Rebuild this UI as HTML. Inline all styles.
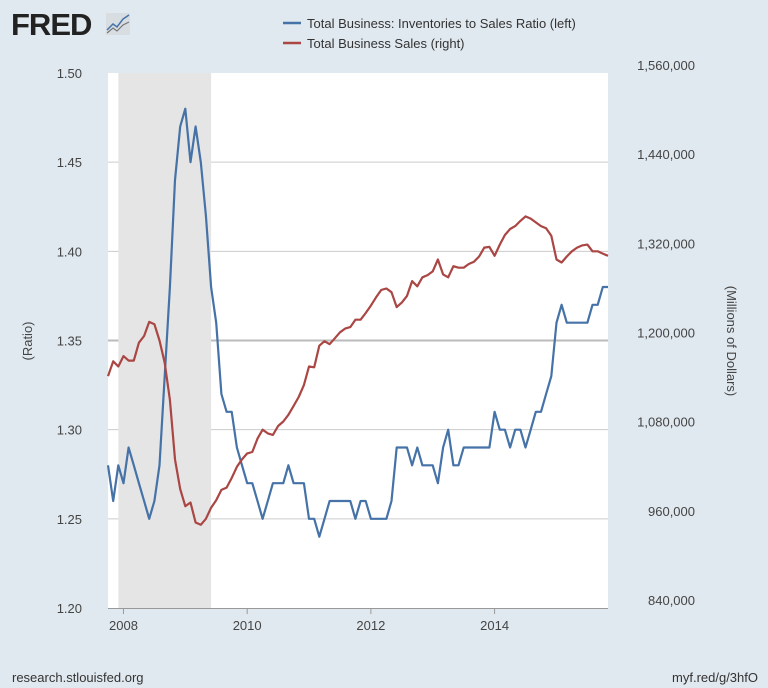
<!DOCTYPE html>
<html><head><meta charset="utf-8"><style>
body{margin:0;background:#e1e9f0;font-family:"Liberation Sans",sans-serif;}
svg{display:block}
text{font-family:"Liberation Sans",sans-serif;}
</style></head><body>
<svg id="c" width="768" height="688">
<rect width="768" height="688" fill="#e1e9f0"/>
<g>
<text x="11" y="35" font-size="31" font-weight="bold" fill="#222" letter-spacing="-1">FRED</text>
<rect x="106" y="13" width="24" height="22" fill="#d8dde2"/>
<polyline points="107,30 113,24 117,27 123,19 129,15" fill="none" stroke="#4572a7" stroke-width="1.5"/>
<polyline points="107,33 113,28 117,31 123,25 129,22" fill="none" stroke="#777" stroke-width="1.2"/>
</g>
<g>
<line x1="283" y1="23" x2="301" y2="23" stroke="#4572a7" stroke-width="2.5"/>
<text x="307" y="28" font-size="13" fill="#333">Total Business: Inventories to Sales Ratio (left)</text>
<line x1="283" y1="43" x2="301" y2="43" stroke="#aa4643" stroke-width="2.5"/>
<text x="307" y="48" font-size="13" fill="#333">Total Business Sales (right)</text>
</g>
<rect x="108" y="73" width="500" height="535" fill="#fff"/>
<g id="grid"></g><g id="rec"></g><g id="series"></g><g id="axes"></g>
<text transform="translate(32,341) rotate(-90)" text-anchor="middle" font-size="13" fill="#444">(Ratio)</text>
<text transform="translate(727,341) rotate(90)" text-anchor="middle" font-size="13" fill="#444">(Millions of Dollars)</text>
<text x="12" y="682" font-size="13" fill="#333">research.stlouisfed.org</text>
<text x="758" y="682" text-anchor="end" font-size="13" fill="#333">myf.red/g/3hfO</text>
</svg>
<script>
const startYear=2007, startMonth=9; // Oct 2007, month index 0-based
const ratio=[1.28,1.26,1.28,1.27,1.29,1.28,1.27,1.26,1.25,1.26,1.28,1.33,1.38,1.44,1.47,1.48,1.45,1.47,1.45,1.42,1.38,1.36,1.32,1.31,1.31,1.29,1.28,1.27,1.27,1.26,1.25,1.26,1.27,1.27,1.27,1.28,1.27,1.27,1.27,1.25,1.25,1.24,1.25,1.26,1.26,1.26,1.26,1.26,1.25,1.26,1.26,1.25,1.25,1.25,1.25,1.26,1.29,1.29,1.29,1.28,1.29,1.28,1.28,1.28,1.27,1.29,1.30,1.28,1.28,1.29,1.29,1.29,1.29,1.29,1.29,1.31,1.30,1.30,1.29,1.30,1.30,1.29,1.30,1.31,1.31,1.32,1.33,1.36,1.37,1.36,1.36,1.36,1.36,1.36,1.37,1.37,1.38,1.38];
const sales=[1152,1172,1165,1179,1173,1173,1197,1206,1225,1222,1200,1170,1120,1040,1000,977,982,955,952,960,975,985,999,1002,1015,1030,1040,1048,1050,1068,1080,1075,1073,1085,1091,1100,1112,1124,1140,1165,1164,1193,1199,1195,1203,1211,1216,1218,1228,1228,1237,1247,1258,1268,1270,1265,1245,1251,1260,1280,1273,1285,1288,1293,1309,1289,1285,1300,1298,1298,1303,1306,1313,1325,1326,1314,1329,1342,1350,1354,1361,1367,1364,1359,1354,1351,1341,1309,1305,1313,1320,1325,1328,1329,1320,1320,1317,1314];
const leftTicks=[1.20,1.25,1.30,1.35,1.40,1.45,1.50];
const rightTicks=[840000,960000,1080000,1200000,1320000,1440000,1560000];
const xTicks=[2008,2010,2012,2014];
const recession=[2007.917,2009.417];
const X0=108,X1=608,Y0=608,Y1=73;
const firstT=startYear+startMonth/12, lastT=firstT+(ratio.length-1)/12;
const x=t=>X0+(t-firstT)/(lastT-firstT)*(X1-X0);
const xi=i=>x(firstT+i/12);
const yL=v=>Y0-(v-1.20)/(1.50-1.20)*(Y0-Y1);
const yR=v=>Y0-(v-840000)/(1560000-840000)*(Y0-Y1);
const NS="http://www.w3.org/2000/svg";
function mk(p,tag,a){const e=document.createElementNS(NS,tag);for(const k in a)e.setAttribute(k,a[k]);document.getElementById(p).appendChild(e);return e;}
leftTicks.forEach((v,k)=>{
  if(k>0&&k<leftTicks.length-1){const g=mk('grid','line',{x1:X0,x2:X1,y1:yL(v),y2:yL(v),stroke:v===1.35?'#bbb':'#ccc','stroke-width':v===1.35?2:1});
  
  }
  const t=mk('axes','text',{x:82,y:yL(v)+5,'text-anchor':'end','font-size':13,fill:'#444'});t.textContent=v.toFixed(2);
  
  
});
rightTicks.forEach(v=>{
  const t=mk('axes','text',{x:695,y:yR(v)-3,'text-anchor':'end','font-size':13,fill:'#444'});t.textContent=v.toLocaleString('en-US');
  
  
});
xTicks.forEach(v=>{
  const t=mk('axes','text',{x:x(v),y:630,'text-anchor':'middle','font-size':13,fill:'#444'});t.textContent=v;
  
  
  const l=mk('axes','line',{x1:x(v),x2:x(v),y1:Y0,y2:Y0+6,stroke:'#999'});
  
  
});
const ax=mk('axes','line',{x1:X0,x2:X1,y1:Y0+0.5,y2:Y0+0.5,stroke:'#999'});


const r=mk('rec','rect',{x:x(recession[0]),y:Y1,width:x(recession[1])-x(recession[0]),height:Y0-Y1,fill:'#e5e5e5'});


const p1=mk('series','polyline',{points:ratio.map((v,i)=>xi(i).toFixed(1)+','+yL(v).toFixed(1)).join(' '),fill:'none',stroke:'#4572a7','stroke-width':2.2,'stroke-linejoin':'round'});


const p2=mk('series','polyline',{points:sales.map((v,i)=>xi(i).toFixed(1)+','+yR(v*1000).toFixed(1)).join(' '),fill:'none',stroke:'#aa4643','stroke-width':2.2,'stroke-linejoin':'round'});


</script>
</body></html>
